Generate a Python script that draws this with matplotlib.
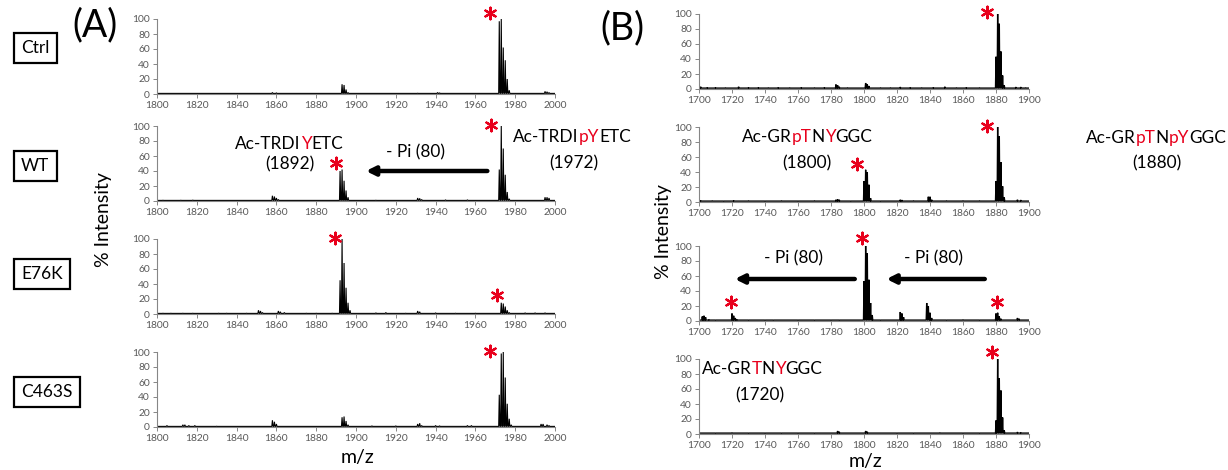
import matplotlib
matplotlib.use("Agg")
import matplotlib.pyplot as plt

W, H = 1228, 470
plt.rcParams["font.family"] = ["Lato", "DejaVu Sans"]

BLACK = "black"
RED = "#e8001c"
AXIS_GREY = "#868686"
TICK_TXT = "#595959"

# ---------------- data (m/z, % intensity) ----------------
A_CTRL_MZ = [1858, 1860, 1893, 1894, 1895, 1896, 1931, 1941, 1942,
             1972, 1973, 1974, 1975, 1976, 1977, 1995, 1996, 1997]
A_CTRL_I = [2, 1.5, 13, 12, 6, 2, 1, 2, 1.5,
            97, 100, 62, 45, 20, 5, 3.5, 3, 2]

A_WT_MZ = [1803, 1812, 1818, 1858, 1859, 1860, 1861, 1892, 1893, 1894, 1895,
           1896, 1910, 1931, 1932, 1933, 1945, 1956, 1972, 1973, 1974, 1975,
           1976, 1977, 1995, 1996, 1997]
A_WT_I = [1, 1, 1.2, 7, 6, 4, 2, 40, 42, 27, 14,
          5, 1, 4, 3.5, 2, 1.5, 1.5, 42, 100, 70, 35,
          12, 3, 5, 5, 4]

A_E76K_MZ = [1803, 1807, 1813, 1818, 1831, 1835, 1845, 1851, 1852, 1853, 1861,
             1862, 1864, 1875, 1880, 1888, 1892, 1893, 1894, 1895, 1896, 1897,
             1910, 1915, 1925, 1931, 1932, 1940, 1950, 1960, 1973, 1974, 1975,
             1976, 1977, 1985, 1990, 1995]
A_E76K_I = [1, 1, 1, 1, 1, 1, 1, 5, 4, 2, 4,
            3, 2, 1, 1, 1, 45, 100, 68, 35, 15, 5,
            1.5, 2, 1, 4, 3, 1.5, 1, 1, 15, 14, 10,
            5, 2, 1.5, 1.5, 1.5]

A_C463S_MZ = [1805, 1813, 1814, 1816, 1819, 1830, 1858, 1859, 1860, 1893, 1894,
              1895, 1896, 1908, 1920, 1931, 1932, 1933, 1940, 1942, 1956, 1958,
              1972, 1973, 1974, 1975, 1976, 1977, 1978, 1993, 1994, 1996, 1997]
A_C463S_I = [2, 3, 3, 2, 2, 1, 9, 7, 4, 13, 14,
             8, 3, 1.5, 1.5, 4, 5, 2, 2, 1.5, 2, 2,
             43, 98, 100, 66, 31, 11, 3, 4, 4, 3, 2]

B_CTRL_MZ = [1701, 1705, 1710, 1716, 1724, 1730, 1736, 1742, 1748, 1755, 1762,
             1770, 1776, 1783, 1784, 1785, 1790, 1801, 1802, 1803, 1810, 1816,
             1822, 1828, 1835, 1842, 1849, 1856, 1862, 1870, 1880, 1881, 1882,
             1883, 1884, 1885, 1892, 1895, 1898]
B_CTRL_I = [3, 2, 2, 1.5, 3, 2, 2, 1.5, 2, 1.5, 2,
            1.5, 2, 6, 5, 3, 1.5, 8, 6, 4, 1.5, 1.5,
            2.5, 2, 1.5, 2, 3, 1.5, 2, 1.5, 43, 100, 87,
            50, 18, 5, 2.5, 2.5, 1.5]

B_WT_MZ = [1701, 1708, 1715, 1721, 1730, 1740, 1750, 1760, 1770, 1783, 1784,
           1785, 1792, 1800, 1801, 1802, 1803, 1804, 1810, 1822, 1823, 1830,
           1839, 1840, 1841, 1850, 1860, 1870, 1880, 1881, 1882, 1883, 1884,
           1885, 1893, 1895]
B_WT_I = [2, 1.5, 1, 2, 1.5, 1, 1.5, 1, 1.5, 3, 3.5,
          3, 1, 28, 43, 40, 23, 5, 1, 3, 2.5, 1.5,
          7, 7, 3, 1.5, 1.5, 1.5, 28, 100, 88, 53, 21,
          6, 3, 2.5]

B_E76K_MZ = [1702, 1703, 1704, 1706, 1710, 1720, 1721, 1722, 1723, 1730, 1740,
             1745, 1760, 1770, 1780, 1785, 1800, 1801, 1802, 1803, 1804, 1805,
             1810, 1822, 1823, 1824, 1838, 1839, 1840, 1841, 1850, 1860, 1870,
             1880, 1881, 1882, 1883, 1893, 1894]
B_E76K_I = [6, 7, 5, 2, 1, 10, 7, 4, 2, 1, 1,
            1, 1, 1, 1, 1, 53, 100, 90, 55, 24, 8,
            1, 12, 10, 5, 24, 20, 11, 4, 1, 1.5, 1,
            10, 11, 6, 3, 4, 3]

B_C463S_MZ = [1700, 1710, 1720, 1730, 1740, 1750, 1760, 1770, 1784, 1785, 1801,
              1802, 1820, 1830, 1846, 1860, 1870, 1880, 1881, 1882, 1883, 1884,
              1885, 1893, 1895]
B_C463S_I = [1, 1, 1.5, 1, 1, 1, 1, 1, 4, 3, 4,
             3, 1, 1, 1.5, 1, 1, 18, 100, 74, 58, 22,
             5, 2.5, 2]

# red asterisks marking the labelled peaks (m/z, level)
A_CTRL_STAR_MZ, A_CTRL_STAR_Y = [1967.4], [108]
A_WT_STAR_MZ, A_WT_STAR_Y = [1890.2, 1967.9], [51, 101]
A_E76K_STAR_MZ, A_E76K_STAR_Y = [1889.2, 1970.9], [101, 25]
A_C463S_STAR_MZ, A_C463S_STAR_Y = [1967.4], [101]
B_CTRL_STAR_MZ, B_CTRL_STAR_Y = [1874.5], [103]
B_WT_STAR_MZ, B_WT_STAR_Y = [1795.8, 1874.5], [51, 101]
B_E76K_STAR_MZ, B_E76K_STAR_Y = [1719.4, 1798.8, 1880.6], [25, 111, 25]
B_C463S_STAR_MZ, B_C463S_STAR_Y = [1877.6], [109]

SAMPLES = ["Ctrl", "WT", "E76K", "C463S"]

# ---------------- layout (pixels) ----------------
A_X = (157, 555)
B_X = (699, 1029)
A_ROWS = [(19, 94), (126, 201), (239, 314), (352, 427)]
B_ROWS = [(14, 89), (127, 202), (246, 321), (359, 434)]
BOX_Y = [48, 166, 274, 392]
FS = 12.4

fig = plt.figure(figsize=(W / 100, H / 100), dpi=100)
renderer = fig.canvas.get_renderer()


def fx(x):
    return x / W


def fy(y):
    return 1 - y / H


def make_axes(xpx, row, xmin, xmax):
    x0, x1 = xpx
    ytop, yzero = row
    ax = fig.add_axes([fx(x0), fy(yzero), (x1 - x0) / W, (yzero - ytop) / H])
    ax.set_xlim(xmin, xmax)
    ax.set_ylim(0, 100)
    ax.set_xticks(range(xmin, xmax + 1, 20))
    ax.set_yticks(range(0, 101, 20))
    for s in ("top", "right"):
        ax.spines[s].set_visible(False)
    for s in ("left", "bottom"):
        ax.spines[s].set_color(AXIS_GREY)
        ax.spines[s].set_linewidth(0.8)
    ax.tick_params(labelsize=7.4, labelcolor=TICK_TXT, color=AXIS_GREY,
                   length=3, width=0.7, pad=2)
    ax.patch.set_alpha(0)
    return ax


def draw_spectrum(ax, mz, inten, base, xmin, xmax, lw):
    xs, ys = [xmin], [base]
    for m, h in sorted(zip(mz, inten)):
        xs += [m - 0.3, m, m + 0.3]
        ys += [base, h, base]
    xs.append(xmax)
    ys.append(base)
    ax.plot(xs, ys, color=BLACK, lw=lw, solid_joinstyle="miter")


def stars(ax, mz, lev):
    ax.scatter(mz, lev, marker=(6, 2, 0), s=70, color=RED, linewidths=1.6,
               clip_on=False, zorder=5)


def plain(x, y, s, size=FS, **kw):
    fig.text(fx(x), fy(y), s, fontsize=size, ha="center", va="center", **kw)


def rich(xc, y, parts, size=FS):
    widths = []
    for s, c in parts:
        t = fig.text(0, 0, s, fontsize=size)
        widths.append(t.get_window_extent(renderer).width)
        t.remove()
    x = xc - sum(widths) / 2
    for (s, c), w in zip(parts, widths):
        fig.text(fx(x), fy(y), s, fontsize=size, color=c, ha="left", va="center")
        x += w


def arrow(ax, m0, m1, lev):
    ax.annotate("", xy=(m1, lev), xytext=(m0, lev),
                arrowprops=dict(arrowstyle="-|>", lw=3.2, color=BLACK,
                                mutation_scale=13, shrinkA=0, shrinkB=0),
                annotation_clip=False)


a_sets = [(A_CTRL_MZ, A_CTRL_I, A_CTRL_STAR_MZ, A_CTRL_STAR_Y),
          (A_WT_MZ, A_WT_I, A_WT_STAR_MZ, A_WT_STAR_Y),
          (A_E76K_MZ, A_E76K_I, A_E76K_STAR_MZ, A_E76K_STAR_Y),
          (A_C463S_MZ, A_C463S_I, A_C463S_STAR_MZ, A_C463S_STAR_Y)]
b_sets = [(B_CTRL_MZ, B_CTRL_I, B_CTRL_STAR_MZ, B_CTRL_STAR_Y),
          (B_WT_MZ, B_WT_I, B_WT_STAR_MZ, B_WT_STAR_Y),
          (B_E76K_MZ, B_E76K_I, B_E76K_STAR_MZ, B_E76K_STAR_Y),
          (B_C463S_MZ, B_C463S_I, B_C463S_STAR_MZ, B_C463S_STAR_Y)]

axes_a, axes_b = [], []
for row, (mz, it, smz, sy) in zip(A_ROWS, a_sets):
    ax = make_axes(A_X, row, 1800, 2000)
    draw_spectrum(ax, mz, it, 0.8, 1800, 2000, 0.8)
    stars(ax, smz, sy)
    axes_a.append(ax)
for row, (mz, it, smz, sy) in zip(B_ROWS, b_sets):
    ax = make_axes(B_X, row, 1700, 1900)
    draw_spectrum(ax, mz, it, 1.2, 1700, 1900, 1.0)
    stars(ax, smz, sy)
    axes_b.append(ax)

# sample name boxes
for name, y in zip(SAMPLES, BOX_Y):
    fig.text(fx(21), fy(y), name, fontsize=12.5, ha="left", va="center",
             bbox=dict(boxstyle="square,pad=0.42", fc="white", ec=BLACK, lw=1.6))

# panel letters and axis titles
plain(95, 25, "(A)", size=27)
plain(622, 28, "(B)", size=27)
plain(103, 220, "% Intensity", size=14, rotation=90)
plain(663, 232, "% Intensity", size=14, rotation=90)
plain(357, 457, "m/z", size=14)
plain(865, 461, "m/z", size=14)

# panel A annotations
rich(289, 144, [("Ac-TRDI", BLACK), ("Y", RED), ("ETC", BLACK)])
plain(290, 164, "(1892)")
plain(416, 152, "- Pi (80)")
arrow(axes_a[1], 1966, 1905, 40)
rich(572, 137, [("Ac-TRDI", BLACK), ("pY", RED), ("ETC", BLACK)])
plain(574, 163, "(1972)")

# panel B annotations
rich(807, 137, [("Ac-GR", BLACK), ("pT", RED), ("N", BLACK), ("Y", RED),
                ("GGC", BLACK)])
plain(807, 163, "(1800)")
rich(1156, 138, [("Ac-GR", BLACK), ("pT", RED), ("N", BLACK), ("pY", RED),
                 ("GGC", BLACK)])
plain(1157, 163, "(1880)")
plain(793, 258, "- Pi (80)")
plain(934, 258, "- Pi (80)")
arrow(axes_b[2], 1794.4, 1721.7, 56)
arrow(axes_b[2], 1873.2, 1813.6, 56)
rich(762, 369, [("Ac-GR", BLACK), ("T", RED), ("N", BLACK), ("Y", RED),
                ("GGC", BLACK)])
plain(760, 395, "(1720)")

fig.savefig("out.png", dpi=100, facecolor="white")
